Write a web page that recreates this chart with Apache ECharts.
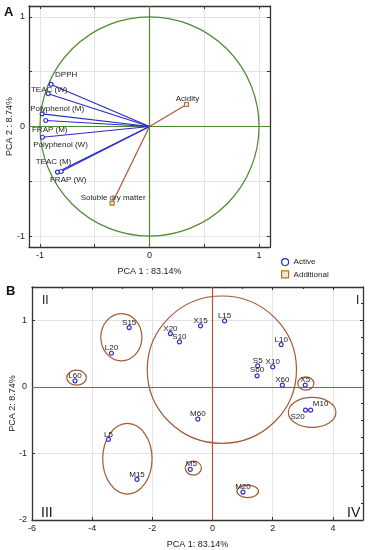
<!DOCTYPE html>
<html><head><meta charset="utf-8">
<script src="https://cdn.jsdelivr.net/npm/echarts@6/dist/echarts.min.js"></script>
<style>html,body{margin:0;padding:0;background:#fff}#c{width:368px;height:550px}</style>
</head><body><div id="c"></div>
<script>
// ---------- Panel A: variable loadings ----------
const activeNames = ['DPPH','TEAC (W)','Polyphenol (M)','FRAP (M)','Polyphenol (W)','TEAC (M)','FRAP (W)'];
const activePC1 = [-0.898,-0.925,-0.980,-0.947,-0.977,-0.840,-0.806];
const activePC2 = [0.384,0.299,0.116,0.055,-0.098,-0.416,-0.411];
const addNames = ['Acidity','Soluble dry matter'];
const addPC1 = [0.338,-0.341];
const addPC2 = [0.201,-0.700];
const ticksA = [-1,-0.5,0,0.5,1];
const labelsA = [-1,0,1];

// ---------- Panel B: sample scores ----------
const sampleNames = ['S15','L20','L60','X20','S10','X15','L15','M60','L10','S5','S60','X10','X60','X5','S20','M10','L5','M15','M5','M20'];
const scorePC1 = [-2.77,-3.36,-4.57,-1.40,-1.10,-0.40,0.40,-0.49,2.28,1.50,1.48,2.00,2.32,3.08,3.09,3.26,-3.46,-2.51,-0.74,1.01];
const scorePC2 = [0.89,0.505,0.09,0.80,0.675,0.915,0.99,-0.485,0.635,0.315,0.165,0.30,0.025,0.025,-0.35,-0.35,-0.79,-1.39,-1.24,-1.58];
// group ellipses: centre (x,y) and radii (x,y) in score units
const groupCX = [0.31,-3.03,-4.52,3.10,3.31,-2.83,-0.64,1.17];
const groupCY = [0.258,0.745,0.138,0.05,-0.384,-1.08,-1.22,-1.57];
const groupRX = [2.48,0.683,0.327,0.267,0.79,0.82,0.27,0.36];
const groupRY = [1.107,0.355,0.112,0.10,0.225,0.53,0.105,0.093];
const quadrantLabels = ['I','II','III','IV'];

// ---------- layout (label offsets in px) ----------
const offA = [[15,-10],[1,-4],[15,-5],[4,9],[18,8],[-4,-10],[7,8]];
const offAdd = [[1,-6],[1,-5]];
const offB = {S20:[-8,7], M10:[10,-6], S60:[0,-6], M5:[1,-6]};

const BLUE = '#2b2bcc', BROWN = '#a55a35', GREEN = '#4f8a32', FRAME = '#333';
const FONT = 'Liberation Sans, Arial, sans-serif';

function ellipseItem(params, api) {
  const c = api.coord([api.value(0), api.value(1)]);
  const s = api.size([api.value(2), api.value(3)]);
  const rx = s[0], ry = s[1];
  const d = `M ${c[0]-rx} ${c[1]} A ${rx} ${ry} 0 1 0 ${c[0]+rx} ${c[1]} A ${rx} ${ry} 0 1 0 ${c[0]-rx} ${c[1]} Z`;
  return {type:'path', shape:{pathData:d}, style:{fill:'none', stroke: api.visual('color'), lineWidth:1.2}};
}

const frameLine = {show:true, onZero:false, lineStyle:{color:FRAME, width:1.3}};
const nameStyle = {fontSize:9, color:'#222', fontFamily:FONT};
const lblStyle = {fontSize:9, color:'#222', fontFamily:FONT};

const option = {
  animation:false,
  textStyle:{fontFamily:FONT},
  grid:[
    {left:29, top:6, width:241, height:241, containLabel:false, outerBoundsMode:'none'},
    {left:32, top:287, width:331, height:233, containLabel:false, outerBoundsMode:'none'}
  ],
  xAxis:[
    {gridIndex:0, type:'value', position:'bottom', min:-1.1, max:1.1, axisLine:frameLine,
     axisTick:{inside:true, length:3, customValues:ticksA, lineStyle:{color:FRAME}},
     axisLabel:{customValues:labelsA, margin:4, ...lblStyle}, splitLine:{show:false},
     name:'PCA 1 : 83.14%', nameLocation:'middle', nameGap:20, nameMoveOverlap:false, nameTextStyle:nameStyle},
    {gridIndex:0, type:'value', position:'top', min:-1.1, max:1.1, axisLine:frameLine,
     axisTick:{inside:true, length:3, customValues:ticksA, lineStyle:{color:FRAME}},
     axisLabel:{show:false}, splitLine:{show:false}},
    {gridIndex:1, type:'value', position:'bottom', min:-6, max:5, interval:2, axisLine:frameLine,
     axisTick:{inside:true, length:3, lineStyle:{color:FRAME}},
     axisLabel:{margin:4, showMaxLabel:false, ...lblStyle},
     splitLine:{show:true, lineStyle:{color:'#e3e3e3', width:1}},
     name:'PCA 1: 83.14%', nameLocation:'middle', nameGap:20, nameMoveOverlap:false, nameTextStyle:nameStyle},
    {gridIndex:1, type:'value', position:'top', min:-6, max:5, interval:2, axisLine:frameLine,
     axisTick:{inside:true, length:3, lineStyle:{color:FRAME}},
     minorTick:{show:true, splitNumber:2, length:2, lineStyle:{color:FRAME}},
     axisLabel:{show:false}, splitLine:{show:false}}
  ],
  yAxis:[
    {gridIndex:0, type:'value', position:'left', min:-1.1, max:1.1, axisLine:frameLine,
     axisTick:{inside:true, length:3, customValues:ticksA, lineStyle:{color:FRAME}},
     axisLabel:{customValues:labelsA, margin:4, ...lblStyle}, splitLine:{show:false},
     name:'PCA 2 : 8.74%', nameLocation:'middle', nameGap:15, nameMoveOverlap:false, nameTextStyle:nameStyle},
    {gridIndex:0, type:'value', position:'right', min:-1.1, max:1.1, axisLine:frameLine,
     axisTick:{inside:true, length:3, customValues:ticksA, lineStyle:{color:FRAME}},
     axisLabel:{show:false}, splitLine:{show:false}},
    {gridIndex:1, type:'value', position:'left', min:-2, max:1.5, interval:1, axisLine:frameLine,
     axisTick:{inside:true, length:3, lineStyle:{color:FRAME}},
     axisLabel:{margin:5, showMaxLabel:false, ...lblStyle},
     splitLine:{show:true, lineStyle:{color:'#e3e3e3', width:1}},
     name:'PCA 2: 8.74%', nameLocation:'middle', nameGap:15, nameMoveOverlap:false, nameTextStyle:nameStyle},
    {gridIndex:1, type:'value', position:'right', min:-2, max:1.5, interval:1, axisLine:frameLine,
     axisTick:{inside:true, length:3, lineStyle:{color:FRAME}},
     minorTick:{show:true, splitNumber:4, length:2, lineStyle:{color:FRAME}},
     axisLabel:{show:false}, splitLine:{show:false}}
  ],
  legend:{
    left:276, top:253, orient:'vertical', itemWidth:7, itemHeight:7, itemGap:4,
    textStyle:{fontSize:8, color:'#222', fontFamily:FONT},
    data:[
      {name:'Active', icon:'circle', itemStyle:{color:'#fff', borderColor:BLUE, borderWidth:1.2}},
      {name:'Additional', icon:'rect', itemStyle:{color:'#f8e6d4', borderColor:'#b8702e', borderWidth:1.2}}
    ]
  },
  graphic:[
    {type:'text', left:4, top:6, style:{text:'A', fontSize:13, fontWeight:'bold', fill:'#111', fontFamily:FONT}},
    {type:'text', left:6, top:285, style:{text:'B', fontSize:13, fontWeight:'bold', fill:'#111', fontFamily:FONT}},
    {type:'text', left:356, top:295, style:{text:quadrantLabels[0], fontSize:12, fill:'#111', fontFamily:FONT}},
    {type:'text', left:42, top:295, style:{text:quadrantLabels[1], fontSize:12, fill:'#111', fontFamily:FONT}},
    {type:'text', left:41, top:506, style:{text:quadrantLabels[2], fontSize:14, fill:'#111', fontFamily:FONT}},
    {type:'text', left:347, top:506, style:{text:quadrantLabels[3], fontSize:14, fill:'#111', fontFamily:FONT}}
  ],
  series:[
    {type:'scatter', xAxisIndex:0, yAxisIndex:0, data:[[0,0]], symbolSize:0, silent:true, z:0,
     markLine:{silent:true, symbol:'none', z:0, label:{show:false}, lineStyle:{color:'#e3e3e3', width:1, type:'solid'},
       data:[{xAxis:-1},{xAxis:-0.5},{xAxis:0.5},{xAxis:1},{yAxis:-1},{yAxis:-0.5},{yAxis:0.5},{yAxis:1}]}},
    {type:'custom', xAxisIndex:0, yAxisIndex:0, data:[[0,0,1,1]], renderItem:ellipseItem,
     itemStyle:{color:GREEN}, silent:true, z:2,
     markLine:{silent:true, symbol:'none', z:2, label:{show:false}, lineStyle:{color:GREEN, width:1.2, type:'solid'},
       data:[{xAxis:0},{yAxis:0}]}},
    {type:'lines', coordinateSystem:'cartesian2d', xAxisIndex:0, yAxisIndex:0, z:3, silent:true,
     lineStyle:{color:BLUE, width:1.2, opacity:1},
     data:activePC1.map((x,i)=>({coords:[[0,0],[x,activePC2[i]]]}))},
    {type:'lines', coordinateSystem:'cartesian2d', xAxisIndex:0, yAxisIndex:0, z:3, silent:true,
     lineStyle:{color:BROWN, width:1.2, opacity:1},
     data:addPC1.map((x,i)=>({coords:[[0,0],[x,addPC2[i]]]}))},
    {name:'Active', type:'scatter', xAxisIndex:0, yAxisIndex:0, z:4, symbol:'circle', symbolSize:4,
     itemStyle:{color:'#fff', borderColor:BLUE, borderWidth:1.2, opacity:1},
     label:{show:true, position:'inside', formatter:p=>p.name, fontSize:8, color:'#222', fontFamily:FONT},
     data:activePC1.map((x,i)=>({name:activeNames[i], value:[x,activePC2[i]], label:{offset:offA[i]}}))},
    {name:'Additional', type:'scatter', xAxisIndex:0, yAxisIndex:0, z:4, symbol:'rect', symbolSize:4,
     itemStyle:{color:'#f8e6d4', borderColor:'#b8702e', borderWidth:1.2, opacity:1},
     label:{show:true, position:'inside', formatter:p=>p.name, fontSize:8, color:'#222', fontFamily:FONT},
     data:addPC1.map((x,i)=>({name:addNames[i], value:[x,addPC2[i]], label:{offset:offAdd[i]}}))},
    {type:'custom', xAxisIndex:2, yAxisIndex:2, renderItem:ellipseItem, itemStyle:{color:BROWN}, silent:true, z:2,
     data:groupCX.map((x,i)=>[x,groupCY[i],groupRX[i],groupRY[i]]),
     markLine:{silent:true, symbol:'none', z:2, label:{show:false}, lineStyle:{color:BROWN, width:1.2, type:'solid'},
       data:[{xAxis:0},{yAxis:0}]}},
    {type:'scatter', xAxisIndex:2, yAxisIndex:2, z:4, symbol:'circle', symbolSize:4,
     itemStyle:{color:'#fff', borderColor:BLUE, borderWidth:1.2, opacity:1},
     label:{show:true, position:'inside', formatter:p=>p.name, fontSize:8, color:'#222', fontFamily:FONT},
     data:scorePC1.map((x,i)=>({name:sampleNames[i], value:[x,scorePC2[i]], label:{offset:offB[sampleNames[i]]||[0,-5]}}))}
  ]
};
const chart = echarts.init(document.getElementById('c'), null, {renderer:'canvas'});
chart.setOption(option);
</script></body></html>
